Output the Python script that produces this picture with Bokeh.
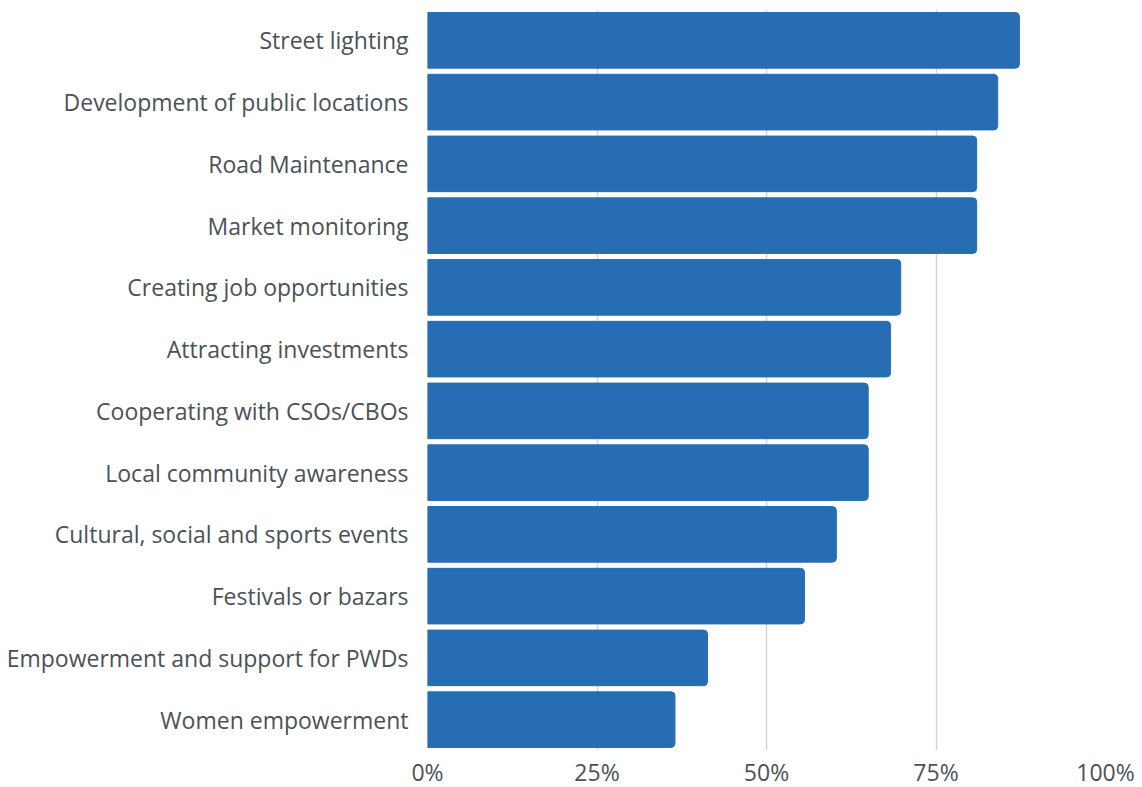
from bokeh.plotting import figure
from bokeh.models import Range1d, FactorRange, FixedTicker, NumeralTickFormatter
from bokeh.embed import file_html
from bokeh.resources import INLINE

categories = [
    "Street lighting",
    "Development of public locations",
    "Road Maintenance",
    "Market monitoring",
    "Creating job opportunities",
    "Attracting investments",
    "Cooperating with CSOs/CBOs",
    "Local community awareness",
    "Cultural, social and sports events",
    "Festivals or bazars",
    "Empowerment and support for PWDs",
    "Women empowerment",
]
values = [0.873, 0.841, 0.810, 0.810, 0.698, 0.683, 0.650, 0.650, 0.603, 0.556, 0.413, 0.365]
x_ticks = [0, 0.25, 0.5, 0.75, 1.0]

FONT = "Open Sans"
TEXT = "#4a5257"

p = figure(
    y_range=FactorRange(*reversed(categories)),
    x_range=Range1d(0, 1),
    frame_width=678, frame_height=741,
    min_border_left=427, min_border_right=30, min_border_top=9, min_border_bottom=0,
    output_backend="svg", toolbar_location=None,
)
p.hbar(y=categories, right=values, left=0, height=0.9, color="#266db4",
       border_radius=(0, 4, 4, 0))

p.outline_line_color = None
p.ygrid.grid_line_color = None
p.xgrid.ticker = FixedTicker(ticks=x_ticks)
p.xgrid.grid_line_color = "#d4d4d4"
p.xgrid.grid_line_width = 1.5

p.xaxis.ticker = FixedTicker(ticks=x_ticks)
p.xaxis.formatter = NumeralTickFormatter(format="0%")
for ax in (p.xaxis, p.yaxis):
    ax.axis_line_color = None
    ax.major_tick_line_color = None
    ax.minor_tick_line_color = None
    ax.major_tick_out = 0
    ax.major_tick_in = 0
    ax.major_label_text_font = FONT
    ax.major_label_text_color = TEXT
p.yaxis.major_label_text_font_size = "23px"
p.xaxis.major_label_text_font_size = "23px"
p.yaxis.major_label_standoff = 19
p.xaxis.major_label_standoff = 5

open("out.html", "w").write(file_html(p, INLINE))
